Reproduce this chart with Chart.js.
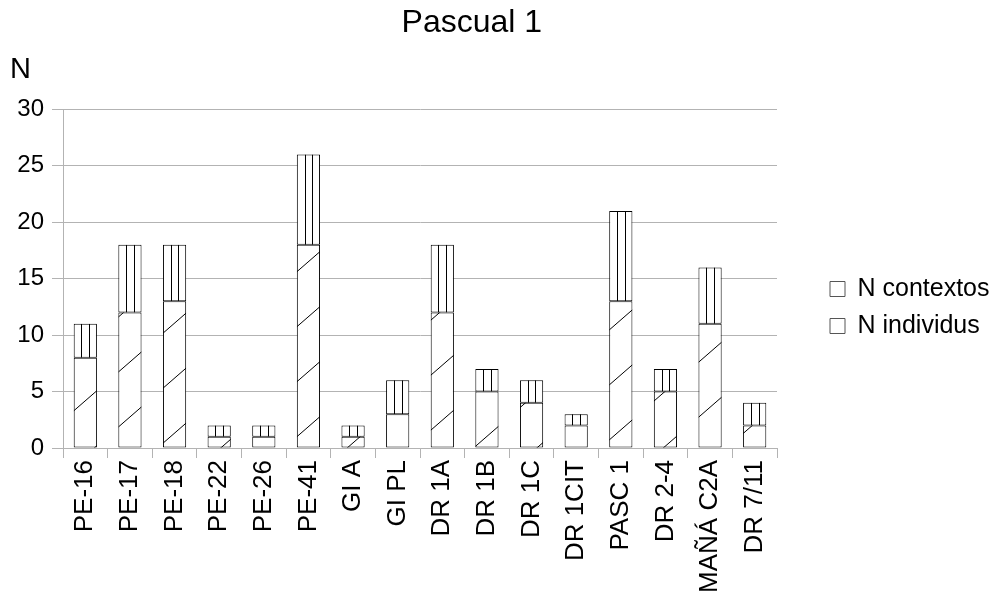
<!DOCTYPE html>
<html>
<head>
<meta charset="utf-8">
<script src="https://cdn.jsdelivr.net/npm/chart.js@4/dist/chart.umd.min.js"></script>
<style>
  html, body { margin: 0; padding: 0; background: #fff; }
  #wrap { width: 997px; height: 603px; }
</style>
</head>
<body>
<div id="wrap"><canvas id="pascual"></canvas></div>
<script>
// data
var sites = ['PE-16', 'PE-17', 'PE-18', 'PE-22', 'PE-26', 'PE-41', 'GI A', 'GI PL',
  'DR 1A', 'DR 1B', 'DR 1C', 'DR 1CIT', 'PASC 1', 'DR 2-4', 'MAÑÁ C2A', 'DR 7/11'];
var nIndividus = [8, 12, 13, 1, 1, 18, 1, 3, 12, 5, 4, 2, 13, 5, 11, 2];
var nContextos = [3, 6, 5, 1, 1, 8, 1, 3, 6, 2, 2, 1, 8, 2, 5, 2];
var yTicks = [0, 5, 10, 15, 20, 25, 30];

var FONT = "'Liberation Sans', Arial, sans-serif";

// hatching drawn inside each bar after the library has placed it
var hatch = {
  id: 'hatch',
  afterDatasetsDraw: function(chart) {
    var ctx = chart.ctx;
    chart.data.datasets.forEach(function(ds, di) {
      var meta = chart.getDatasetMeta(di);
      meta.data.forEach(function(bar) {
        var p = bar.getProps(['x', 'y', 'base', 'width'], true);
        var left = p.x - p.width / 2, right = p.x + p.width / 2;
        var top = Math.min(p.y, p.base), bottom = Math.max(p.y, p.base);
        ctx.save();
        ctx.beginPath();
        ctx.rect(left, top, right - left, bottom - top);
        ctx.clip();
        ctx.strokeStyle = '#000';
        ctx.lineWidth = 1;
        ctx.beginPath();
        if (ds.hatch === 'vertical') {
          for (var k = 1; k < 3; k++) {
            var xx = Math.round(left + (right - left) * k / 3) + 0.5;
            ctx.moveTo(xx, top);
            ctx.lineTo(xx, bottom);
          }
        } else {
          var step = 55;
          for (var c = -2000; c < 2000; c += step) {
            ctx.moveTo(left, c - left * 0.87);
            ctx.lineTo(right, c - right * 0.87);
          }
        }
        ctx.stroke();
        ctx.restore();
      });
    });
  }
};

var yTitle = {
  id: 'yTitle',
  afterDraw: function(chart) {
    var ctx = chart.ctx;
    ctx.save();
    ctx.fillStyle = '#000';
    ctx.font = '29px ' + FONT;
    ctx.textBaseline = 'alphabetic';
    ctx.fillText('N', 10, 78);
    ctx.restore();
  }
};

new Chart('pascual', {
  type: 'bar',
  data: {
    labels: sites,
    datasets: [{
      label: 'N individus',
      data: nIndividus,
      backgroundColor: '#fff',
      borderColor: '#000',
      borderWidth: 1,
      borderSkipped: false,
      hatch: 'diagonal',
      categoryPercentage: 1,
      barPercentage: 0.52
    }, {
      label: 'N contextos',
      data: nContextos,
      backgroundColor: '#fff',
      borderColor: '#000',
      borderWidth: 1,
      borderSkipped: false,
      hatch: 'vertical',
      categoryPercentage: 1,
      barPercentage: 0.52
    }]
  },
  options: {
    responsive: true,
    maintainAspectRatio: false,
    animation: false,
    layout: { padding: { left: 0, right: 0, top: 0, bottom: 0 } },
    plugins: {
      title: {
        display: true,
        // trailing spaces nudge the centred title to the left like the original
        text: 'Pascual 1\u00a0\u00a0\u00a0\u00a0\u00a0\u00a0',
        color: '#000',
        font: { family: FONT, size: 32, weight: 'normal' },
        padding: { top: 4, bottom: 67 }
      },
      legend: {
        position: 'right',
        reverse: true,
        maxWidth: 179,
        title: { display: true, text: ' ', padding: 0, font: { size: 10 } },
        labels: {
          color: '#000',
          font: { family: FONT, size: 25 },
          boxWidth: 15,
          boxHeight: 15,
          padding: 12,
          generateLabels: function(chart) {
            return chart.data.datasets.map(function(ds, i) {
              return {
                text: ds.label,
                fillStyle: '#fff',
                strokeStyle: '#555',
                lineWidth: 1,
                datasetIndex: i,
                fontColor: '#000'
              };
            });
          }
        }
      },
      tooltip: { enabled: false }
    },
    scales: {
      x: {
        stacked: true,
        grid: { drawOnChartArea: false, color: '#b3b3b3', tickLength: 10 },
        border: { color: '#b3b3b3' },
        ticks: {
          color: '#000',
          font: { family: FONT, size: 26 },
          minRotation: 90,
          maxRotation: 90,
          autoSkip: false,
          padding: 2
        },
        afterFit: function(axis) { axis.height = 155; }
      },
      y: {
        stacked: true,
        min: 0,
        max: 30,
        afterBuildTicks: function(axis) {
          axis.ticks = yTicks.map(function(v) { return { value: v }; });
        },
        grid: { color: '#b3b3b3', tickLength: 11 },
        border: { color: '#b3b3b3' },
        ticks: {
          color: '#000',
          font: { family: FONT, size: 24 },
          padding: 8
        },
        afterFit: function(axis) { axis.width = 63; }
      },
      // empty right-hand axis: only keeps the gap between plot and legend
      gap: {
        type: 'linear',
        position: 'right',
        display: true,
        grid: { display: false },
        border: { display: false },
        ticks: { display: false },
        afterFit: function(axis) { axis.width = 41; }
      }
    }
  },
  plugins: [hatch, yTitle]
});
</script>
</body>
</html>
